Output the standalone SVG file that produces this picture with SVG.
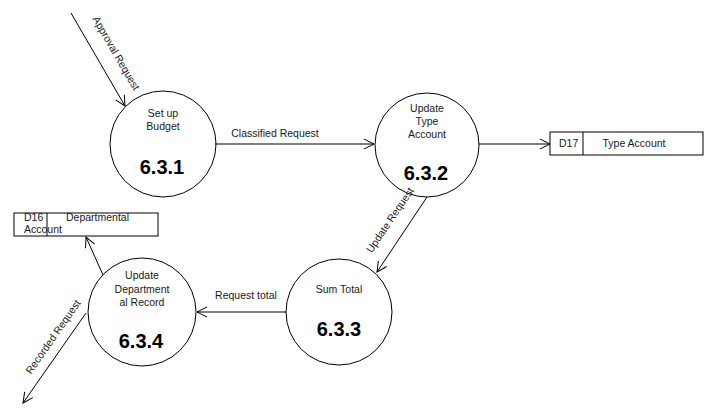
<svg xmlns="http://www.w3.org/2000/svg" width="712" height="419" viewBox="0 0 712 419">
<defs>
<marker id="arr" markerWidth="12" markerHeight="12" refX="11" refY="6" orient="auto" markerUnits="userSpaceOnUse">
<path d="M1,1 L11,6 L1,11" fill="none" stroke="#000" stroke-width="1"/>
</marker>
<style>
.p{fill:#fff;stroke:#000;stroke-width:1}
.t{font-family:"Liberation Sans",Arial,sans-serif;font-size:10.5px;fill:#1a1a1a}
.c{text-anchor:middle}
.n{font-family:"Liberation Sans",Arial,sans-serif;font-size:20px;font-weight:bold;fill:#000;text-anchor:middle}
.l{fill:none;stroke:#000;stroke-width:1;marker-end:url(#arr)}
</style>
</defs>
<rect width="712" height="419" fill="#fff"/>
<g id="n631">
<circle class="p" cx="163" cy="144" r="53"/>
<text class="t c" x="163" y="117">Set up</text>
<text class="t c" x="163" y="130">Budget</text>
<text class="n" x="162" y="174">6.3.1</text>
</g>
<g id="n632">
<circle class="p" cx="427" cy="145" r="52"/>
<text class="t c" x="427" y="112">Update</text>
<text class="t c" x="427" y="125">Type</text>
<text class="t c" x="427" y="138">Account</text>
<text class="n" x="426" y="180">6.3.2</text>
</g>
<g id="n633">
<circle class="p" cx="339" cy="312" r="53"/>
<text class="t c" x="339" y="293">Sum Total</text>
<text class="n" x="339" y="336">6.3.3</text>
</g>
<g id="n634">
<circle class="p" cx="142" cy="312" r="54"/>
<text class="t c" x="142" y="279">Update</text>
<text class="t c" x="142" y="293">Department</text>
<text class="t c" x="142" y="306">al Record</text>
<text class="n" x="141" y="348">6.3.4</text>
</g>
<g id="d17">
<rect class="p" x="550" y="132" width="153" height="23"/>
<line x1="583" y1="132" x2="583" y2="155" stroke="#000"/>
<text class="t" x="559" y="147">D17</text>
<text class="t c" x="634" y="147">Type Account</text>
</g>
<g id="d16">
<rect class="p" x="14" y="213" width="144" height="23"/>
<line x1="47" y1="213" x2="47" y2="236" stroke="#000"/>
<text class="t" x="24" y="221">D16</text>
<text class="t" x="66" y="221">Departmental</text>
<text class="t" x="24" y="233">Account</text>
</g>
<g id="connectors">
<line class="l" x1="71" y1="13" x2="125" y2="106"/>
<line class="l" x1="215" y1="144" x2="374" y2="144"/>
<line class="l" x1="479" y1="144" x2="550" y2="144"/>
<line class="l" x1="427" y1="197" x2="377" y2="272"/>
<line class="l" x1="286" y1="312" x2="197" y2="312"/>
<line class="l" x1="103" y1="275" x2="86" y2="237"/>
<line class="l" x1="86" y1="313" x2="23" y2="403"/>
<text class="t c" transform="translate(113,55) rotate(60)">Approval Request</text>
<text class="t c" x="275" y="137">Classified Request</text>
<text class="t c" transform="translate(393,222) rotate(-56)">Update Request</text>
<text class="t c" x="246" y="299">Request total</text>
<text class="t c" transform="translate(56,339) rotate(-55)">Recorded Request</text>
</g>
</svg>
